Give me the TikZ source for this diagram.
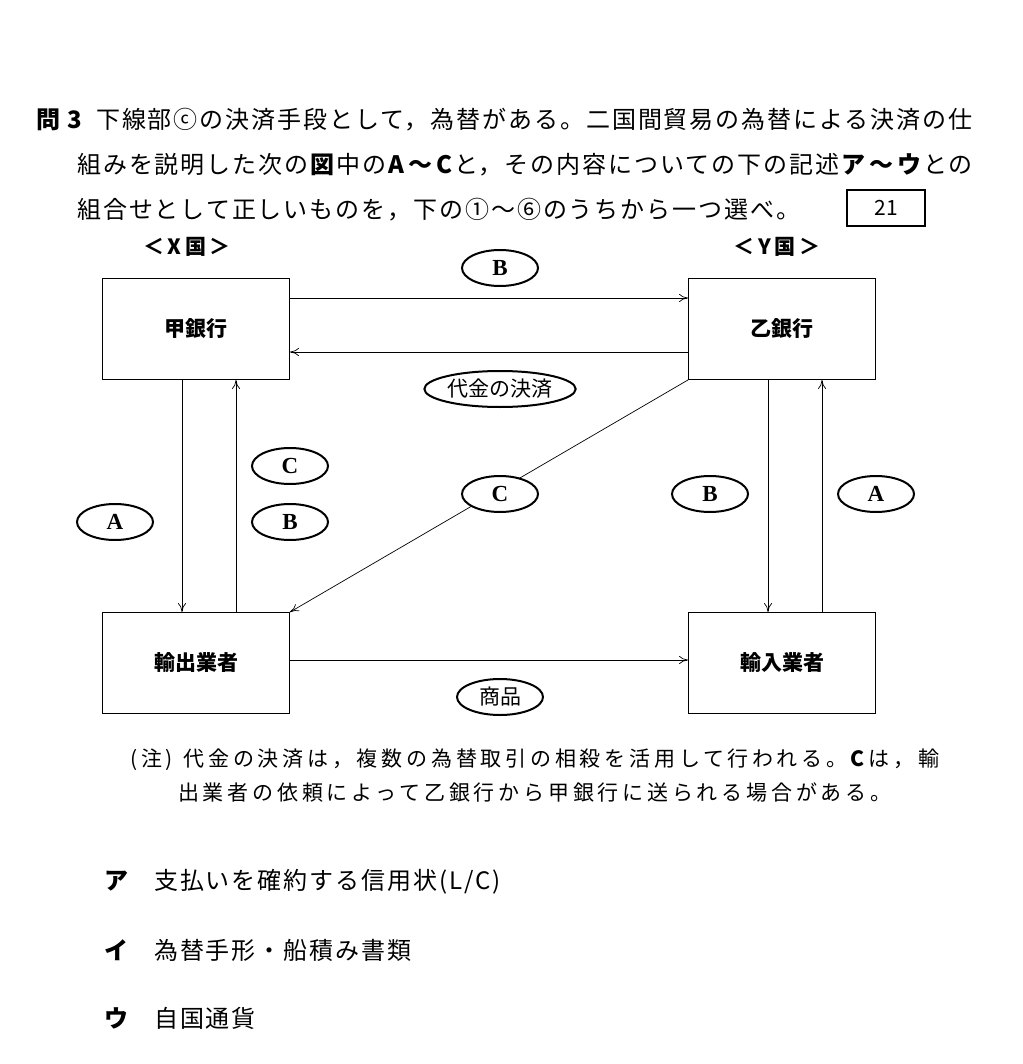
\documentclass[tikz,border=0pt]{standalone}
\usepackage{fontspec}
\setmainfont{Noto Sans CJK JP}
\newfontfamily\jsp[LetterSpace=8]{Noto Sans CJK JP}
\newfontfamily\jsn[LetterSpace=18]{Noto Sans CJK JP}
\newfontfamily\lat{Liberation Serif}
\usetikzlibrary{arrows.meta,shapes.geometric}
\begin{document}
\begin{tikzpicture}[x=1pt,y=-1pt,
 box/.style={draw,line width=0.8pt,minimum width=187pt,minimum height=101pt,font=\fontsize{21}{21}\selectfont\bfseries},
 ell/.style={draw,ellipse,line width=2pt,minimum width=76pt,minimum height=36pt,inner sep=1pt,font=\fontsize{23}{23}\selectfont\lat\bfseries},
 jel/.style={draw,ellipse,line width=2pt,minimum height=36pt,inner sep=1pt,font=\fontsize{21}{21}\selectfont},
 ar/.style={-{To[length=9pt,width=8pt]},line width=0.7pt},
 tx/.style={anchor=west,font=\fontsize{24}{24}\selectfont\jsp,inner sep=0}]
\useasboundingbox (0,0) rectangle (1022,1064);
\node[tx] (h1) at (36,120) {\textbf{問 3}\enspace 下線部ⓒの決済手段として，為替がある。二国間貿易の為替による決済の仕};
\node[tx] (h2) at (77,165) {組みを説明した次の\textbf{図}中の\textbf{A\,〜\,C}と，その内容についての下の記述\textbf{ア\,〜\,ウ}との};
\node[tx] (h3) at (77,210) {組合せとして正しいものを，下の①〜⑥のうちから一つ選べ。};
\node[draw,line width=2pt,minimum width=78pt,minimum height=36pt,font=\fontsize{21}{21}\selectfont] (n21) at (886,208) {21};
\node[font=\fontsize{21}{21}\selectfont\bfseries] (xk) at (187,247) {＜\,X\,国\,＞};
\node[font=\fontsize{21}{21}\selectfont\bfseries] (yk) at (777,247) {＜\,Y\,国\,＞};
\node[box] (kou) at (196,329) {甲銀行};
\node[box] (otsu) at (782,329) {乙銀行};
\node[box] (yus) at (196,663) {輸出業者};
\node[box] (yun) at (782,663) {輸入業者};
\draw[ar] (kou.east|-0,298) -- (otsu.west|-0,298);
\draw[ar] (otsu.west|-0,352) -- (kou.east|-0,352);
\draw[ar] (kou.south-|182,0) -- (yus.north-|182,0);
\draw[ar] (yus.north-|236,0) -- (kou.south-|236,0);
\draw[ar] (otsu.south-|768,0) -- (yun.north-|768,0);
\draw[ar] (yun.north-|822,0) -- (otsu.south-|822,0);
\draw[ar] (otsu.south west) -- (yus.north east);
\draw[ar] (yus.east|-0,660) -- (yun.west|-0,660);
\node[ell] (eB1) at (500,268) {B};
\node[jel,minimum width=150pt] (ed) at (500,389) {代金の決済};
\node[ell] (eA1) at (115,522) {A};
\node[ell] (eC1) at (290,466) {C};
\node[ell] (eB2) at (290,522) {B};
\node[ell,fill=white] (eC2) at (500,494) {C};
\node[ell] (eB3) at (710,494) {B};
\node[ell] (eA2) at (876,494) {A};
\node[jel,minimum width=86pt] (esh) at (500,697) {商品};
\node[tx,font=\fontsize{21}{21}\selectfont\jsn] (n1) at (130,760) {(注)\enspace 代金の決済は，複数の為替取引の相殺を活用して行われる。\textbf{C}は，輸};
\node[tx,font=\fontsize{21}{21}\selectfont\jsn] (n2) at (178,792) {出業者の依頼によって乙銀行から甲銀行に送られる場合がある。};
\node[tx] (oa) at (104,882) {\textbf{ア}\quad 支払いを確約する信用状(L/C)};
\node[tx] (oi) at (104,950) {\textbf{イ}\quad 為替手形・船積み書類};
\node[tx] (ou) at (104,1018) {\textbf{ウ}\quad 自国通貨};
\end{tikzpicture}
\end{document}
